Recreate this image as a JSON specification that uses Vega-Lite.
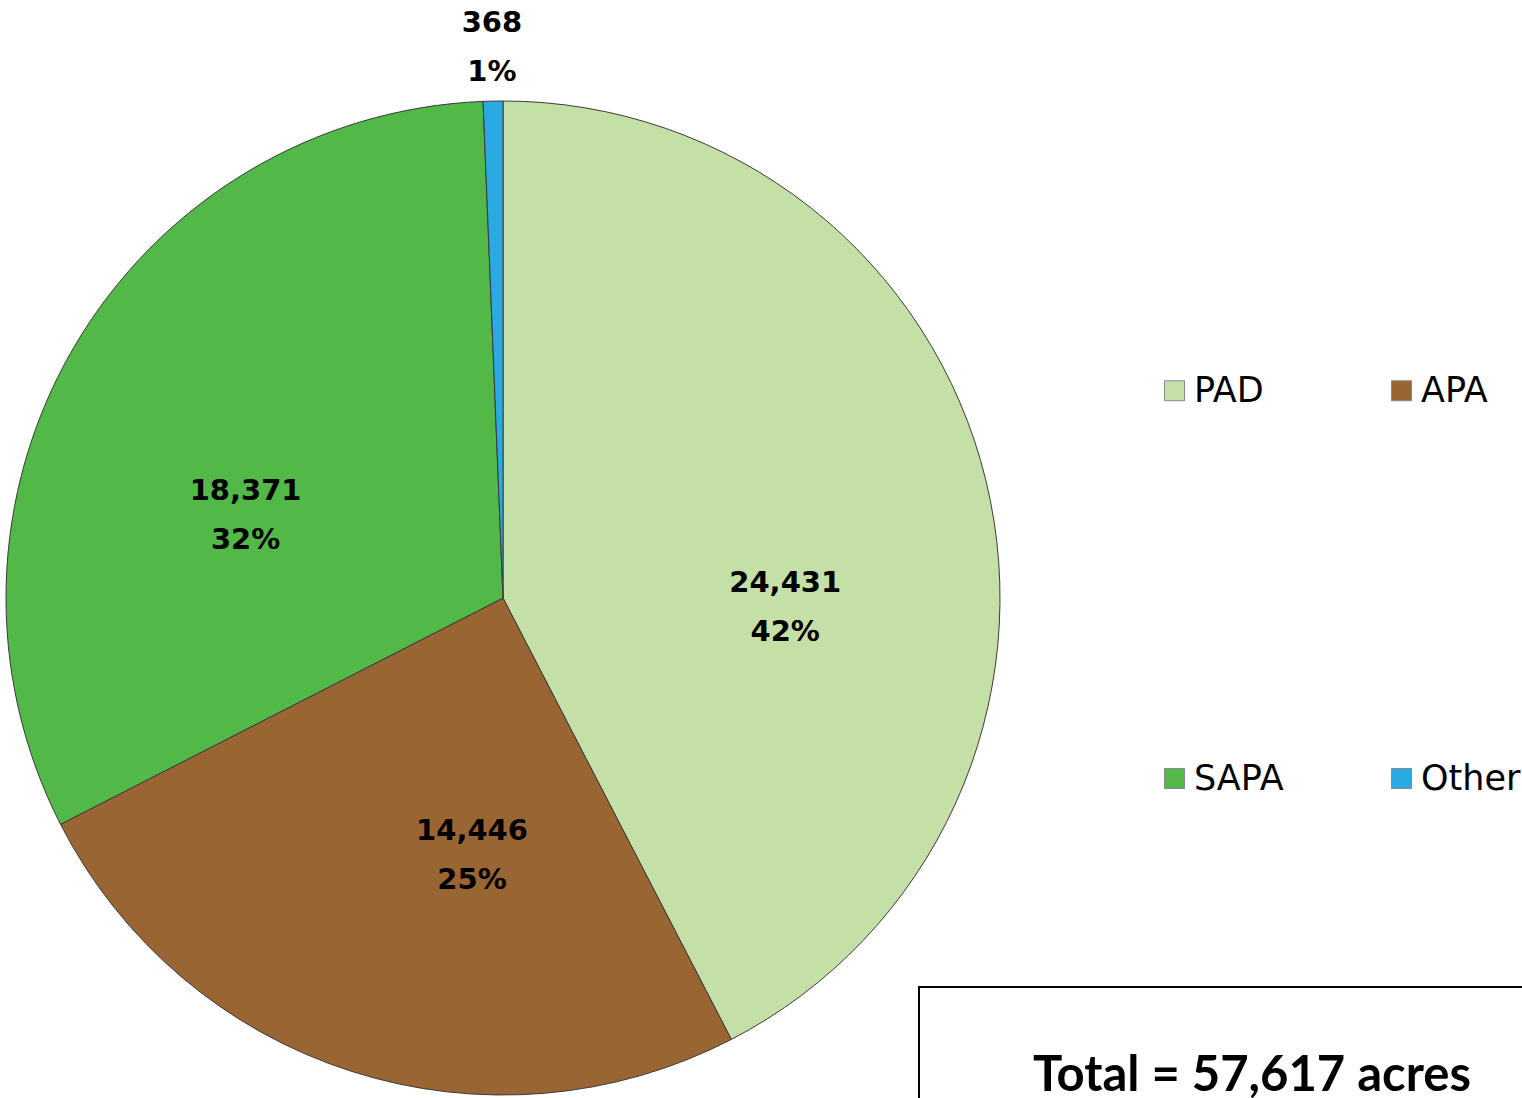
{
  "$schema": "https://vega.github.io/schema/vega-lite/v6.json",
  "padding": 0,
  "background": "white",
  "bounds": "flush",
  "config": {"view": {"stroke": null}},
  "datasets": {
    "slices": [
      {"category": "PAD", "acres": 24431, "rank": 1, "label": "24,431\n42%"},
      {"category": "APA", "acres": 14446, "rank": 2, "label": "14,446\n25%"},
      {"category": "SAPA", "acres": 18371, "rank": 3, "label": "18,371\n32%"},
      {"category": "Other", "acres": 368, "rank": 4, "label": "368\n1%"}
    ],
    "total": [{"label": "Total = 57,617 acres"}],
    "blank": [{"label": ""}]
  },
  "hconcat": [
    {
      "width": 919,
      "height": 1196,
      "data": {"name": "slices"},
      "encoding": {
        "theta": {"field": "acres", "type": "quantitative", "stack": true},
        "order": {"field": "rank", "type": "quantitative"}
      },
      "layer": [
        {
          "mark": {"type": "arc", "outerRadius": 497, "xOffset": 43.5, "stroke": "#3a3a3a", "strokeWidth": 1},
          "encoding": {
            "color": {
              "field": "category",
              "type": "nominal",
              "scale": {
                "domain": ["PAD", "APA", "SAPA", "Other"],
                "range": ["#C5E0A6", "#996633", "#52B848", "#29AAE1"]
              },
              "legend": {
                "orient": "none",
                "direction": "horizontal",
                "legendX": 1157,
                "legendY": 373,
                "title": null,
                "columns": 2,
                "symbolType": "square",
                "symbolSize": 400,
                "symbolStrokeColor": "#8a8a8a",
                "symbolStrokeWidth": 1,
                "labelFont": "DejaVu Sans",
                "labelFontSize": 35,
                "labelColor": "black",
                "labelOffset": 2,
                "columnPadding": 100,
                "rowPadding": 352,
                "padding": 0
              }
            }
          }
        },
        {
          "mark": {"type": "text", "radius": 275, "xOffset": 43.5, "dx": 15, "dy": 50, "font": "DejaVu Sans", "fontWeight": "bold", "fontSize": 29, "lineHeight": 49, "lineBreak": "\n", "color": "black"},
          "encoding": {"text": {"condition": {"test": "datum.category === 'PAD'", "field": "label"}, "value": ""}}
        },
        {
          "mark": {"type": "text", "radius": 275, "xOffset": 43.5, "dx": 53, "dy": -29, "font": "DejaVu Sans", "fontWeight": "bold", "fontSize": 29, "lineHeight": 49, "lineBreak": "\n", "color": "black"},
          "encoding": {"text": {"condition": {"test": "datum.category === 'APA'", "field": "label"}, "value": ""}}
        },
        {
          "mark": {"type": "text", "radius": 275, "xOffset": 43.5, "dx": -20, "dy": 32, "font": "DejaVu Sans", "fontWeight": "bold", "fontSize": 29, "lineHeight": 49, "lineBreak": "\n", "color": "black"},
          "encoding": {"text": {"condition": {"test": "datum.category === 'SAPA'", "field": "label"}, "value": ""}}
        },
        {
          "mark": {"type": "text", "radius": 553, "xOffset": 43.5, "dy": -22, "font": "DejaVu Sans", "fontWeight": "bold", "fontSize": 29, "lineHeight": 49, "lineBreak": "\n", "color": "black"},
          "encoding": {"text": {"condition": {"test": "datum.category === 'Other'", "field": "label"}, "value": ""}}
        }
      ]
    },
    {
      "spacing": 0,
      "vconcat": [
        {
          "width": 666,
          "height": 986,
          "data": {"name": "blank"},
          "mark": {"type": "text"},
          "encoding": {"text": {"field": "label"}}
        },
        {
          "width": 666,
          "height": 178,
          "view": {"stroke": "black", "strokeWidth": 2},
          "data": {"name": "total"},
          "mark": {"type": "text", "font": "Lato", "fontWeight": "bold", "fontSize": 49, "color": "black"},
          "encoding": {"text": {"field": "label"}}
        }
      ]
    }
  ],
  "spacing": 0
}
